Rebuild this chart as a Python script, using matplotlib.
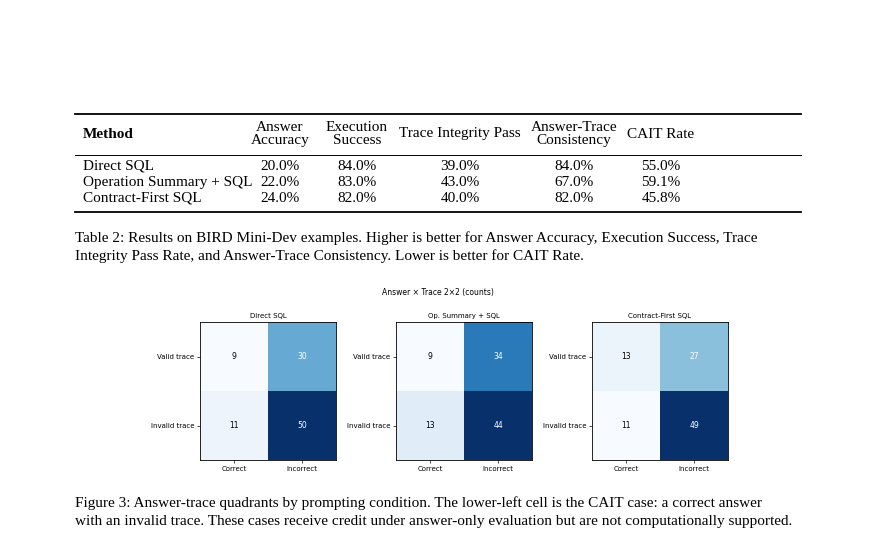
import matplotlib
matplotlib.use("Agg")
import matplotlib.pyplot as plt
from matplotlib.lines import Line2D
import numpy as np

W, H = 877, 557
methods = ["Direct SQL", "Operation Summary + SQL", "Contract-First SQL"]
headers = ["Answer\nAccuracy", "Execution\nSuccess", "Trace Integrity Pass", "Answer-Trace\nConsistency", "CAIT Rate"]
answer_acc = ["20.0%", "22.0%", "24.0%"]
exec_succ = ["84.0%", "83.0%", "82.0%"]
trace_pass = ["39.0%", "43.0%", "40.0%"]
consistency = ["84.0%", "67.0%", "82.0%"]
cait = ["55.0%", "59.1%", "45.8%"]

panel_titles = ["Direct SQL", "Op. Summary + SQL", "Contract-First SQL"]
counts = [
    [[9, 30], [11, 50]],
    [[9, 34], [13, 44]],
    [[13, 27], [11, 49]],
]
row_labels = ["Valid trace", "Invalid trace"]
col_labels = ["Correct", "Incorrect"]

fig = plt.figure(figsize=(W / 100, H / 100), dpi=100)
serif = "Liberation Serif"

def fx(x): return x / W
def fy(y): return 1 - y / H

def hline(y, x0=75, x1=801, lw=1.2):
    fig.add_artist(Line2D([fx(x0), fx(x1)], [fy(y), fy(y)], color="black", lw=lw))

hline(114, lw=1.3); hline(155, lw=0.7); hline(212, lw=1.3)

fs = 11
fig.text(fx(83), fy(134), "Method", family=serif, weight="bold", fontsize=fs, va="center")
col_x = [280, 357, 460, 574, 661]
for x, h in zip(col_x, headers):
    fig.text(fx(x), fy(134), h, family=serif, fontsize=fs, ha="center", va="center", linespacing=1.0)
cols = [answer_acc, exec_succ, trace_pass, consistency, cait]
row_y = [166, 182, 198]
for i, m in enumerate(methods):
    fig.text(fx(83), fy(row_y[i]), m, family=serif, fontsize=fs, va="center")
    for x, c in zip(col_x, cols):
        fig.text(fx(x), fy(row_y[i]), c[i], family=serif, fontsize=fs, ha="center", va="center")

fig.text(fx(75), fy(238), "Table 2: Results on BIRD Mini-Dev examples. Higher is better for Answer Accuracy, Execution Success, Trace",
         family=serif, fontsize=fs, va="center")
fig.text(fx(75), fy(256), "Integrity Pass Rate, and Answer-Trace Consistency. Lower is better for CAIT Rate.",
         family=serif, fontsize=fs, va="center")

fig.text(fx(438), fy(293), "Answer × Trace 2×2 (counts)", fontsize=5.5, ha="center", va="center")

for k, left in enumerate([200, 396, 592]):
    ax = fig.add_axes([fx(left), fy(460), 136 / W, 138 / H])
    d = np.array(counts[k])
    ax.imshow(d, cmap="Blues", aspect="auto")
    thr = d.max() / 2
    for i in range(2):
        for j in range(2):
            ax.text(j, i, str(d[i, j]), ha="center", va="center", fontsize=5.5,
                    color="white" if d[i, j] > thr else "black")
    ax.set_xticks([0, 1]); ax.set_xticklabels(col_labels, fontsize=5)
    ax.set_yticks([0, 1]); ax.set_yticklabels(row_labels, fontsize=5)
    ax.tick_params(length=2, width=0.5, pad=2)
    ax.set_title(panel_titles[k], fontsize=5, pad=3)
    for s in ax.spines.values():
        s.set_linewidth(0.6)

fig.text(fx(75), fy(503), "Figure 3: Answer-trace quadrants by prompting condition. The lower-left cell is the CAIT case: a correct answer",
         family=serif, fontsize=fs, va="center")
fig.text(fx(75), fy(521), "with an invalid trace. These cases receive credit under answer-only evaluation but are not computationally supported.",
         family=serif, fontsize=fs, va="center")

fig.savefig("out.png", dpi=100)
